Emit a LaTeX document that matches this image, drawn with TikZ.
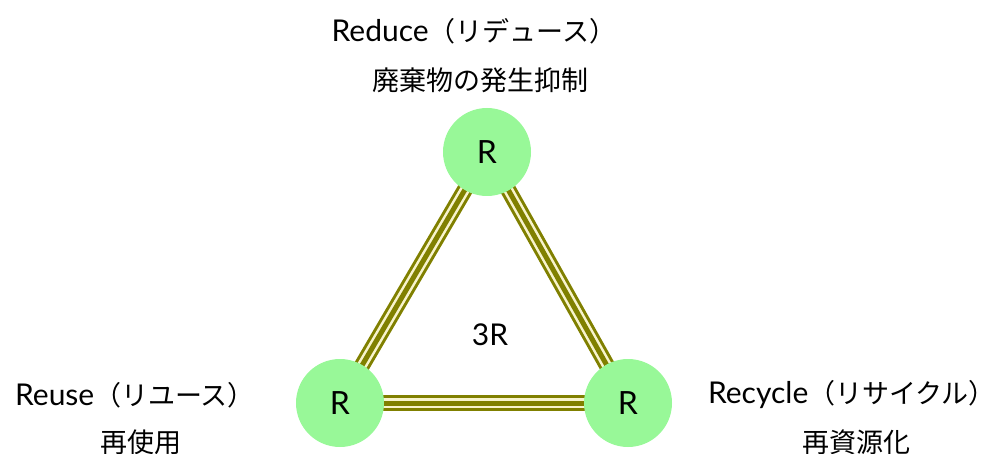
\documentclass[tikz,border=0pt]{standalone}
\usepackage{fontspec}
\setmainfont{Noto Sans CJK JP}
\newfontfamily\lat{Lato}
\usetikzlibrary{backgrounds}
\definecolor{rgreen}{RGB}{152,248,152}
\definecolor{olivel}{RGB}{128,128,0}
\definecolor{creaml}{RGB}{248,244,205}
\newcommand\latsz{\fontsize{30}{32}\selectfont\lat}
\tikzset{
  rnode/.style={circle,fill=rgreen,minimum size=88pt,inner sep=0pt,font=\fontsize{32}{34}\selectfont\lat},
  lbl/.style={font=\fontsize{27}{30}\selectfont,inner sep=0pt},
  bandA/.style={draw=olivel,line width=16pt},
  bandB/.style={draw=creaml,line width=10pt},
  bandC/.style={draw=olivel,line width=5pt}
}
\begin{document}
\begin{tikzpicture}[x=1pt,y=-1pt]
\useasboundingbox (0,0) rectangle (998,454);
\node[rnode] (top) at (487,152) {R};
\node[rnode] (left) at (340,403) {R};
\node[rnode] (right) at (628,403) {R};
\begin{pgfonlayer}{background}
\foreach \a/\b in {top/left,left/right,right/top}{
  \draw[bandA] (\a.center) -- (\b.center);
  \draw[bandB] (\a.center) -- (\b.center);
  \draw[bandC] (\a.center) -- (\b.center);
}
\end{pgfonlayer}
\node[lbl,font=\latsz] (c) at (490,335) {3R};
\node[lbl] (t1) at (474,31) {{\latsz Reduce}（リデュース）};
\node[lbl] (t2) at (480,80) {廃棄物の発生抑制};
\node[lbl] (l1) at (135,395) {{\latsz Reuse}（リユース）};
\node[lbl] (l2) at (141,442) {再使用};
\node[lbl] (r1) at (852,395) {{\latsz Recycle}（リサイクル）};
\node[lbl] (r2) at (856,442) {再資源化};
\end{tikzpicture}
\end{document}
